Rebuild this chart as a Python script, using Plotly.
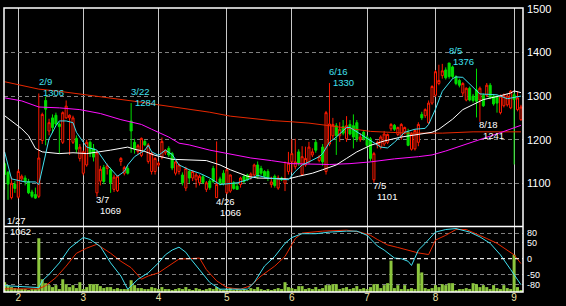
import plotly.graph_objects as go
import pandas as pd

# ---------------- data ----------------
holidays = ['2011-02-11', '2011-03-21', '2011-04-29', '2011-05-03',
            '2011-05-04', '2011-05-05', '2011-07-18']
dates = [d.strftime('%Y-%m-%d') for d in pd.bdate_range('2011-01-26', '2011-09-05')
         if d.strftime('%Y-%m-%d') not in holidays]

month_ticks = ['2011-02-01', '2011-03-01', '2011-04-01', '2011-05-02',
               '2011-06-01', '2011-07-01', '2011-08-01', '2011-09-01']
month_labels = ['2', '3', '4', '5', '6', '7', '8', '9']

opens = [1145, 1125, 1067, 1098, 1068, 1110, 1112, 1104, 1080, 1074,
         1070, 1198, 1290, 1220, 1250, 1256, 1236, 1194, 1250, 1250,
         1194, 1203, 1157, 1123, 1142, 1194, 1180, 1078, 1105, 1136,
         1134, 1131, 1086, 1083, 1150, 1123, 1134, 1243, 1194, 1173,
         1164, 1196, 1150, 1127, 1127, 1142, 1160, 1170, 1180, 1168,
         1123, 1127, 1119, 1089, 1127, 1112, 1108, 1101, 1115, 1086,
         1105, 1134, 1067, 1110, 1123, 1078, 1082, 1101, 1093, 1097,
         1116, 1119, 1112, 1119, 1142, 1134, 1127, 1127, 1097, 1116,
         1089, 1112, 1100, 1127, 1149, 1138, 1172, 1120, 1142, 1149,
         1165, 1194, 1152, 1183, 1127, 1190, 1209, 1232, 1209, 1230,
         1202, 1235, 1232, 1239, 1200, 1217, 1206, 1202, 1108, 1188,
         1183, 1190, 1194, 1225, 1233, 1212, 1206, 1218, 1217, 1178,
         1179, 1194, 1258, 1255, 1239, 1284, 1302, 1329, 1347, 1360,
         1376, 1367, 1345, 1336, 1307, 1291, 1318, 1300, 1314, 1291,
         1302, 1302, 1325, 1300, 1299, 1262, 1278, 1280, 1273, 1303,
         1269, 1246]
highs = [1150, 1128, 1115, 1105, 1132, 1120, 1118, 1110, 1085, 1090,
         1306, 1262, 1299, 1248, 1258, 1262, 1240, 1265, 1290, 1258,
         1255, 1210, 1190, 1175, 1200, 1198, 1190, 1175, 1140, 1142,
         1145, 1136, 1120, 1118, 1160, 1140, 1140, 1284, 1202, 1190,
         1205, 1200, 1192, 1172, 1160, 1150, 1205, 1178, 1185, 1172,
         1152, 1145, 1125, 1138, 1132, 1130, 1125, 1120, 1120, 1105,
         1110, 1140, 1196, 1115, 1130, 1135, 1120, 1105, 1100, 1115,
         1120, 1122, 1125, 1145, 1150, 1140, 1130, 1132, 1115, 1120,
         1118, 1115, 1150, 1172, 1201, 1202, 1178, 1185, 1184, 1195,
         1180, 1200, 1165, 1190, 1266, 1330, 1250, 1238, 1240, 1245,
         1254, 1245, 1258, 1245, 1215, 1222, 1210, 1206, 1172, 1198,
         1210, 1220, 1214, 1238, 1236, 1230, 1238, 1230, 1225, 1217,
         1224, 1240, 1264, 1272, 1290, 1325, 1360, 1372, 1374, 1366,
         1376, 1370, 1348, 1340, 1332, 1320, 1322, 1305, 1363, 1322,
         1306, 1330, 1330, 1305, 1302, 1304, 1306, 1305, 1314, 1308,
         1311, 1280]
lows = [1085, 1062, 1063, 1078, 1065, 1105, 1095, 1075, 1066, 1064,
        1066, 1190, 1187, 1210, 1215, 1232, 1168, 1190, 1248, 1165,
        1190, 1170, 1150, 1118, 1138, 1160, 1150, 1069, 1095, 1098,
        1120, 1078, 1080, 1080, 1140, 1118, 1120, 1170, 1168, 1165,
        1160, 1185, 1145, 1120, 1120, 1138, 1155, 1165, 1160, 1130,
        1118, 1120, 1095, 1082, 1100, 1105, 1090, 1095, 1098, 1080,
        1085, 1100, 1066, 1095, 1095, 1075, 1078, 1085, 1085, 1090,
        1100, 1105, 1108, 1115, 1110, 1118, 1112, 1105, 1090, 1090,
        1085, 1105, 1082, 1120, 1125, 1132, 1140, 1118, 1138, 1145,
        1160, 1170, 1148, 1140, 1120, 1185, 1200, 1165, 1195, 1210,
        1195, 1210, 1180, 1195, 1195, 1198, 1180, 1150, 1101, 1180,
        1178, 1185, 1190, 1220, 1220, 1208, 1200, 1212, 1185, 1175,
        1175, 1185, 1245, 1250, 1235, 1280, 1298, 1325, 1340, 1338,
        1340, 1340, 1325, 1320, 1300, 1288, 1288, 1285, 1251, 1241,
        1275, 1298, 1293, 1278, 1262, 1258, 1274, 1276, 1270, 1143,
        1265, 1243]
closes = [1120, 1098, 1100, 1088, 1127, 1116, 1104, 1078, 1070, 1066,
          1158, 1258, 1270, 1239, 1228, 1236, 1230, 1262, 1277, 1256,
          1250, 1178, 1183, 1172, 1194, 1168, 1160, 1170, 1132, 1104,
          1140, 1101, 1114, 1116, 1157, 1136, 1123, 1220, 1179, 1186,
          1203, 1188, 1188, 1168, 1157, 1146, 1196, 1176, 1165, 1135,
          1149, 1142, 1101, 1134, 1112, 1127, 1119, 1116, 1102, 1101,
          1090, 1104, 1097, 1100, 1101, 1131, 1119, 1088, 1086, 1112,
          1104, 1108, 1121, 1142, 1116, 1123, 1116, 1114, 1103, 1095,
          1112, 1108, 1110, 1146, 1168, 1149, 1146, 1161, 1157, 1183,
          1172, 1176, 1161, 1149, 1262, 1236, 1235, 1209, 1224, 1215,
          1232, 1213, 1206, 1202, 1206, 1202, 1187, 1157, 1168, 1194,
          1206, 1213, 1212, 1235, 1224, 1228, 1235, 1228, 1187, 1213,
          1221, 1235, 1250, 1269, 1284, 1322, 1356, 1336, 1358, 1342,
          1345, 1345, 1329, 1325, 1329, 1318, 1291, 1290, 1288, 1318,
          1278, 1325, 1296, 1282, 1284, 1300, 1302, 1300, 1311, 1292,
          1296, 1275]
volume = [100, 70, 50, 40, 30, 30, 30, 20, 30, 30,
          550, 130, 90, 70, 50, 70, 30, 130, 80, 50,
          70, 40, 100, 30, 50, 80, 80, 80, 60, 40,
          50, 50, 30, 40, 30, 30, 30, 120, 70, 40,
          40, 30, 30, 50, 40, 30, 50, 30, 30, 20,
          30, 40, 30, 50, 30, 20, 40, 30, 20, 30,
          40, 30, 50, 30, 20, 30, 40, 20, 30, 20,
          30, 20, 40, 30, 50, 30, 20, 30, 20, 30,
          40, 30, 100, 50, 40, 30, 60, 60, 30, 40,
          30, 50, 30, 40, 70, 70, 80, 80, 30, 40,
          50, 30, 40, 60, 30, 40, 30, 50, 80, 80,
          40, 70, 90, 320, 40, 70, 30, 70, 30, 40,
          30, 290, 200, 40, 30, 40, 70, 50, 80, 70,
          90, 90, 20, 30, 30, 40, 30, 90, 80, 50,
          70, 50, 30, 70, 40, 30, 70, 40, 30, 380,
          50, 20]

# moving averages (day index, price)
ma_red_idx = [0, 5, 10, 16, 22, 28, 34, 40, 45, 53, 60, 66, 72, 78, 84, 89, 95, 101, 107, 118, 128, 137, 151]
ma_red_val = [1333, 1325, 1316, 1311, 1305, 1298, 1292, 1286, 1280, 1271, 1263, 1254, 1249, 1244,
              1241, 1238, 1232, 1226, 1219, 1215, 1215, 1218, 1218]
ma_mag_idx = [0, 5, 10, 16, 22, 28, 34, 40, 43, 48, 51, 54, 60, 66, 72, 78, 84, 95, 101, 107,
              114, 121, 125, 129, 138, 145, 151]
ma_mag_val = [1296, 1289, 1275, 1273, 1269, 1260, 1246, 1235, 1224, 1206, 1192, 1188, 1176, 1167,
              1158, 1152, 1145, 1143, 1145, 1149, 1156, 1161, 1165, 1174, 1197, 1216, 1233]
ma_wht_idx = [0, 3, 5, 7, 8, 9, 11, 16, 20, 24, 31, 36, 38, 41, 44, 49, 59, 63, 66, 69, 71, 74,
              83, 86, 90, 93, 97, 100, 103, 107, 111, 116, 121, 125, 127, 131, 134, 137, 140,
              144, 148, 149, 151]
ma_wht_val = [1255, 1236, 1225, 1209, 1195, 1180, 1172, 1168, 1170, 1168, 1176, 1183, 1178, 1173,
              1164, 1155, 1152, 1142, 1131, 1121, 1116, 1112, 1110, 1116, 1123, 1131, 1142, 1157,
              1172, 1187, 1197, 1206, 1213, 1217, 1224, 1247, 1269, 1280, 1292, 1299, 1307, 1312, 1308]
ma_cyn_idx = [0, 2, 6, 9, 10, 11, 12, 13, 15, 16, 18, 20, 21, 23, 24, 27, 30, 33, 35, 36, 38, 41,
              42, 43, 45, 47, 49, 51, 54, 57, 60, 63, 65, 68, 71, 74, 77, 83, 85, 87, 89, 92, 93,
              95, 97, 100, 101, 104, 107, 110, 112, 114, 117, 120, 123, 124, 126, 128, 131, 132,
              134, 136, 139, 144, 147, 151]
ma_cyn_val = [1172, 1110, 1103, 1103, 1097, 1134, 1164, 1202, 1232, 1243, 1243, 1239, 1217, 1194,
              1183, 1176, 1142, 1116, 1127, 1142, 1161, 1176, 1187, 1172, 1164, 1176, 1166, 1142,
              1131, 1123, 1112, 1097, 1098, 1101, 1108, 1118, 1112, 1108, 1127, 1142, 1149, 1161,
              1168, 1194, 1206, 1228, 1228, 1213, 1198, 1183, 1181, 1194, 1217, 1224, 1226, 1235,
              1270, 1311, 1340, 1344, 1343, 1328, 1305, 1303, 1294, 1300]

# oscillator (day index, value)
osc_cyn_idx = [0, 5, 10, 11, 13, 16, 19, 22, 23, 25, 28, 31, 34, 36, 39, 42, 45, 47, 49, 51, 53,
               54, 57, 60, 63, 71, 73, 76, 79, 82, 84, 86, 87, 91, 95, 100, 103, 106, 109, 111,
               114, 116, 118, 119, 121, 123, 126, 129, 132, 136, 139, 142, 145, 148, 150, 151]
osc_cyn_val = [-84, -86, -90, -69, -49, -13, 33, 58, 66, 60, 38, -13, -54, -95, -64, -44, -13, 12,
               27, 36, 20, 5, -34, -74, -95, -95, -74, -23, 7, 48, 66, 73, 78, 78, 83, 86, 86, 73,
               40, 27, 2, 0, -8, -21, 27, 48, 83, 91, 94, 83, 68, 48, 12, -34, -64, -81]
osc_red_idx = [0, 10, 12, 15, 18, 21, 24, 27, 28, 31, 34, 37, 40, 42, 45, 48, 51, 54, 57, 59, 62,
               65, 69, 72, 75, 79, 82, 85, 87, 93, 100, 104, 107, 109, 112, 115, 118, 121, 124,
               126, 129, 132, 135, 138, 141, 144, 147, 149, 151]
osc_red_val = [-94, -94, -84, -59, -23, 17, 33, 45, 38, 17, -8, -28, -64, -54, -44, -23, -1, 0, 2,
               -34, -69, -90, -95, -84, -54, -23, 7, 63, 80, 86, 89, 83, 73, 60, 43, 35, 27, 18,
               13, 58, 73, 91, 91, 78, 63, 48, 27, 12, -15]

peak_idx = [10, 37, 95, 130]
trough_idx = [27, 62, 108, 139]
first_low_idx = 1

# ---------------- figure ----------------
W, H = 566, 306
ML, MR, MT, MB = 4, 43, 3, 13
split = 67 / 290

FONT = 'Liberation Sans, Arial, sans-serif'
CYAN = '#40e0f0'
GRID = '#808080'
VGRID = '#c8c8c8'
AFS = 9.5   # annotation font size

fig = go.Figure()

fig.add_trace(go.Candlestick(
    x=dates, open=opens, high=highs, low=lows, close=closes,
    xaxis='x', yaxis='y', whiskerwidth=0,
    increasing=dict(line=dict(color='#ff1a00', width=1), fillcolor='#000000'),
    decreasing=dict(line=dict(color='#00dd00', width=1), fillcolor='#00dd00'),
    hoverinfo='skip'))

for idxs, vals, col in [(ma_red_idx, ma_red_val, '#e82800'),
                        (ma_mag_idx, ma_mag_val, '#ff10ff'),
                        (ma_wht_idx, ma_wht_val, '#ffffff'),
                        (ma_cyn_idx, ma_cyn_val, CYAN)]:
    fig.add_trace(go.Scatter(x=[dates[i] for i in idxs], y=vals, mode='lines',
                             line=dict(color=col, width=1), xaxis='x', yaxis='y',
                             hoverinfo='skip'))

fig.add_trace(go.Bar(x=dates, y=volume, marker=dict(color='#8cc63e', line=dict(width=0)),
                     xaxis='x2', yaxis='y2', hoverinfo='skip'))

for idxs, vals, col in [(osc_red_idx, osc_red_val, '#e82800'),
                        (osc_cyn_idx, osc_cyn_val, CYAN)]:
    fig.add_trace(go.Scatter(x=[dates[i] for i in idxs], y=vals, mode='lines',
                             line=dict(color=col, width=1), xaxis='x2', yaxis='y3',
                             hoverinfo='skip'))

xr = [-0.18, 151.6]
common_x = dict(type='category', categoryorder='array', categoryarray=dates, range=xr,
                tickvals=month_ticks, showgrid=True, gridcolor=VGRID, gridwidth=1,
                zeroline=False, showline=False, ticks='', fixedrange=True)

fig.update_layout(
    width=W, height=H,
    margin=dict(l=ML, r=MR, t=MT, b=MB, pad=0),
    paper_bgcolor='black', plot_bgcolor='black',
    showlegend=False, bargap=0.12, boxgap=0.15,
    font=dict(family=FONT, color='white', size=11),
    xaxis=dict(common_x, domain=[0, 1], anchor='y', showticklabels=False,
               rangeslider=dict(visible=False)),
    xaxis2=dict(common_x, domain=[0, 1], anchor='y2', matches='x',
                ticktext=month_labels, showticklabels=True,
                tickfont=dict(family=FONT, size=10, color='#f0e4a8'),
                ticklabelstandoff=-2),
    yaxis=dict(domain=[split, 1], range=[1001, 1502.2], side='right', anchor='x',
               tickvals=[1100, 1200, 1300, 1400, 1500], showgrid=True, gridcolor=GRID,
               griddash='4px,3px', gridwidth=1, zeroline=False, showline=False, ticks='',
               tickfont=dict(family=FONT, size=11, color='white'), ticklabelstandoff=3,
               ticklabeloverflow='allow'),
    yaxis2=dict(domain=[0, split], range=[0, 670], anchor='x2', showgrid=False,
                showticklabels=False, zeroline=False, showline=False, ticks=''),
    yaxis3=dict(overlaying='y2', anchor='x2', side='right', range=[-103.8, 100.8],
                tickvals=[80, 50, 0, -50, -80], ticktext=['80', '50', '0', '-50', '-80'],
                showgrid=True, gridcolor=GRID, griddash='4px,3px', gridwidth=1,
                zeroline=False, showline=False, ticks='',
                tickfont=dict(family=FONT, size=9, color='white'), ticklabelstandoff=3,
                ticklabeloverflow='allow'),
)

shapes = [
    dict(type='line', xref='paper', yref='y3', x0=0, x1=1, y0=0, y1=0,
         line=dict(color='white', width=1, dash='4px,3px')),
    dict(type='line', xref='paper', yref='paper', x0=0, x1=1, y0=split, y1=split,
         line=dict(color='white', width=1.5)),
    dict(type='rect', xref='paper', yref='paper', x0=0, x1=1, y0=0, y1=1,
         line=dict(color='white', width=1.5)),
]
fig.update_layout(shapes=shapes)


def md(d):
    return f"{int(d[5:7])}/{int(d[8:10])}"


ann = []
for i in peak_idx:
    ann.append(dict(x=dates[i], y=highs[i], text=md(dates[i]), xanchor='left', yanchor='middle',
                    xshift=-1, yshift=12, font=dict(color=CYAN, size=AFS)))
    ann.append(dict(x=dates[i], y=highs[i], text=str(highs[i]), xanchor='left', yanchor='middle',
                    xshift=3, yshift=1, font=dict(color=CYAN, size=AFS)))
for i in trough_idx:
    ann.append(dict(x=dates[i], y=lows[i], text=md(dates[i]), xanchor='left', yanchor='middle',
                    xshift=-2, yshift=-3, font=dict(color='white', size=AFS)))
    ann.append(dict(x=dates[i], y=lows[i], text=str(lows[i]), xanchor='left', yanchor='middle',
                    xshift=2, yshift=-14, font=dict(color='white', size=AFS)))
i = first_low_idx
ann.append(dict(x=dates[i], y=lows[i], text=md(dates[i]), xanchor='left', yanchor='middle',
                xshift=-2, yshift=-21, font=dict(color='white', size=AFS)))
ann.append(dict(x=dates[i], y=lows[i], text=str(lows[i]), xanchor='left', yanchor='middle',
                xshift=1, yshift=-32, font=dict(color='white', size=AFS)))
for a in ann:
    a.update(xref='x', yref='y', showarrow=False, borderpad=0,
             font=dict(a['font'], family=FONT))
fig.update_layout(annotations=ann)

fig.write_html('out.html', config={'displayModeBar': False})
